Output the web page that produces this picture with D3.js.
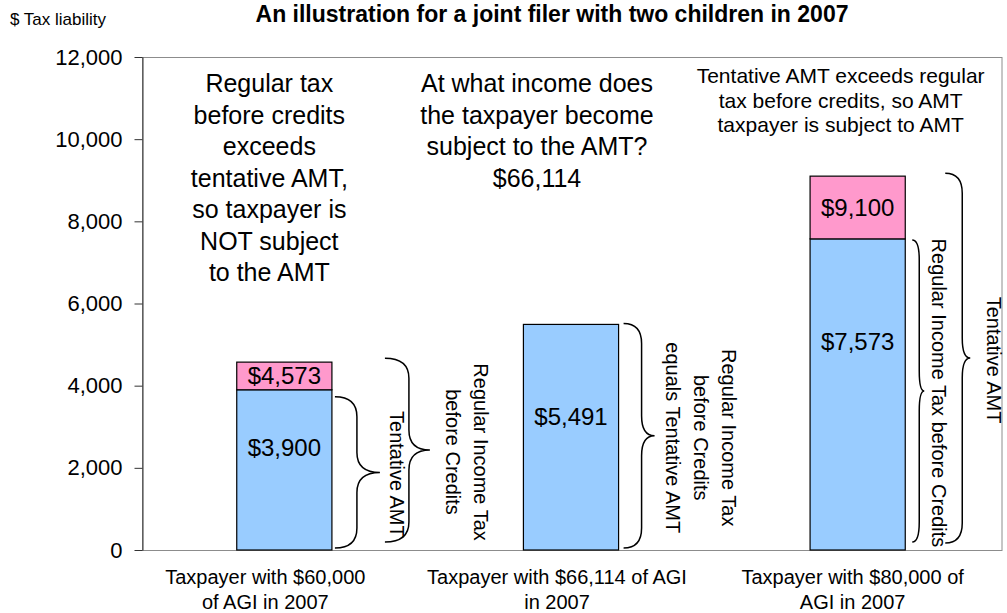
<!DOCTYPE html>
<html>
<head>
<meta charset="utf-8">
<script src="https://cdn.jsdelivr.net/npm/d3@7"></script>
<style>
  body { margin: 0; background: #fff; }
  svg text { font-family: "Liberation Sans", Arial, sans-serif; fill: #000; }
</style>
</head>
<body>
<script>
// Données
const categories = ['$60,000', '$66,114', '$80,000'];
const categoryLines = [
  ['Taxpayer with $60,000', 'of AGI in 2007'],
  ['Taxpayer with $66,114 of AGI', 'in 2007'],
  ['Taxpayer with $80,000 of', 'AGI in 2007']
];
const regularTax = [4573, 5491, 7573];
const tentativeAMT = [3900, 5491, 9100];
const yTicks = [0, 2000, 4000, 6000, 8000, 10000, 12000];
const notes = [
  ['Regular tax', 'before credits', 'exceeds', 'tentative AMT,', 'so taxpayer is', 'NOT subject', 'to the AMT'],
  ['At what income does', 'the taxpayer become', 'subject to the AMT?', '$66,114'],
  ['Tentative AMT exceeds regular', 'tax before credits, so AMT', 'taxpayer is subject to AMT']
];
const braceSeries = [
  { bar: 0, series: 'amt', lines: ['Tentative AMT'] },
  { bar: 0, series: 'reg', lines: ['Regular Income Tax', 'before Credits'] },
  { bar: 1, series: 'reg', lines: ['Regular Income Tax', 'before Credits', 'equals Tentative AMT'] },
  { bar: 2, series: 'reg', lines: ['Regular Income Tax before Credits'] },
  { bar: 2, series: 'amt', lines: ['Tentative AMT'] }
];

// mise en page des accolades (décalages depuis le bord droit de la barre)
const braceLayout = [
  { x0: 3, xm: 25, xt: 48, dTop: 7, dBot: 2, lx: 17 },
  { x0: 53, xm: 77, xt: 98, dTop: -4, dBot: 8, lx: 23 },
  { x0: 5, xm: 23, xt: 36, dTop: -1, dBot: 2, lx: 18 },
  { x0: 7, xm: 14, xt: 19, dTop: 1, dBot: 8, lx: 15 },
  { x0: 40, xm: 57, xt: 65, dTop: -3, dBot: 7, lx: 24 }
];
const blueLabelFrac = [0.64, 0.59, 0.67];
const noteDx = [-15, -34, -17];
const catDx = [-19, -14, -5];

const W = 1007, H = 613;
const svg = d3.select('body').append('svg')
  .attr('width', W)
  .attr('height', H);

const x = d3.scaleBand()
  .domain(categories)
  .range([141, 1001])
  .paddingInner(0.668)
  .paddingOuter(0.334);

const y = d3.scaleLinear()
  .domain([0, 12000])
  .range([550, 57]);

// cadre gris
svg.append('rect')
  .attr('x', 142.5).attr('y', y(12000) + 0.5)
  .attr('width', 1002 - 142.5).attr('height', y(0) - y(12000))
  .attr('fill', 'none')
  .attr('stroke', '#8c8c8c')
  .attr('stroke-width', 1);

const bars = categories.map((c, i) => ({
  cat: c,
  low: Math.min(regularTax[i], tentativeAMT[i]),
  high: Math.max(regularTax[i], tentativeAMT[i])
}));

// partie bleue
svg.append('g').selectAll('rect')
  .data(bars)
  .join('rect')
  .attr('x', d => x(d.cat))
  .attr('y', d => y(d.low))
  .attr('width', x.bandwidth())
  .attr('height', d => y(0) - y(d.low))
  .attr('fill', '#99ccff')
  .attr('stroke', '#000')
  .attr('stroke-width', 1.2);

// partie rose
svg.append('g').selectAll('rect')
  .data(bars.filter(d => d.high > d.low))
  .join('rect')
  .attr('x', d => x(d.cat))
  .attr('y', d => y(d.high))
  .attr('width', x.bandwidth())
  .attr('height', d => y(d.low) - y(d.high))
  .attr('fill', '#ff99cc')
  .attr('stroke', '#000')
  .attr('stroke-width', 1.2);

const fmt = d3.format(',');

// étiquettes des valeurs
svg.append('g').selectAll('text')
  .data(bars)
  .join('text')
  .attr('x', d => x(d.cat) + x.bandwidth() / 2)
  .attr('y', (d, i) => y(d.low * blueLabelFrac[i]))
  .attr('dy', '0.35em')
  .attr('text-anchor', 'middle')
  .style('font-size', '24px')
  .text(d => '$' + fmt(d.low));

svg.append('g').selectAll('text')
  .data(bars.filter(d => d.high > d.low))
  .join('text')
  .attr('x', d => x(d.cat) + x.bandwidth() / 2)
  .attr('y', d => (y(d.low) + y(d.high)) / 2)
  .attr('dy', '0.35em')
  .attr('text-anchor', 'middle')
  .style('font-size', '24px')
  .text(d => '$' + fmt(d.high));

// axe Y
const yAxis = svg.append('g')
  .attr('transform', 'translate(142.5,0)')
  .call(d3.axisLeft(y).tickValues(yTicks).tickSize(8).tickSizeOuter(0).tickPadding(12).tickFormat(fmt));
yAxis.select('.domain').attr('stroke', '#333');
yAxis.selectAll('.tick line').attr('stroke', '#333');
yAxis.selectAll('.tick text')
  .style('font-size', '22px')
  .style('font-family', '"Liberation Sans", Arial, sans-serif');

// étiquettes des catégories
categories.forEach((c, i) => {
  const t = svg.append('text')
    .attr('text-anchor', 'middle')
    .style('font-size', '20px');
  categoryLines[i].forEach((line, k) => {
    t.append('tspan')
      .attr('x', x(c) + x.bandwidth() / 2 + catDx[i])
      .attr('y', 584 + k * 25)
      .text(line);
  });
});

// accolades
function bracePath(x0, xm, xt, y0, y1) {
  const ym = (y0 + y1) / 2;
  const r = Math.min(20, (y1 - y0) / 6);
  return `M${x0},${y0} Q${xm},${y0} ${xm},${y0 + r} L${xm},${ym - r} Q${xm},${ym} ${xt},${ym}`
    + ` Q${xm},${ym} ${xm},${ym + r} L${xm},${y1 - r} Q${xm},${y1} ${x0},${y1}`;
}

braceSeries.forEach((b, i) => {
  const L = braceLayout[i];
  const right = x(categories[b.bar]) + x.bandwidth();
  const v = b.series === 'reg' ? regularTax[b.bar] : tentativeAMT[b.bar];
  const y0 = y(v) + L.dTop;
  const y1 = y(0) - L.dBot;
  svg.append('path')
    .attr('d', bracePath(right + L.x0, right + L.xm, right + L.xt, y0, y1))
    .attr('fill', 'none')
    .attr('stroke', '#000')
    .attr('stroke-width', 1.5);
  const ym = (y0 + y1) / 2;
  const n = b.lines.length;
  b.lines.forEach((line, k) => {
    const cx = right + L.xt + L.lx + (n - 1 - k) * 28;
    svg.append('text')
      .attr('transform', `translate(${cx},${ym + 2}) rotate(90)`)
      .attr('text-anchor', 'middle')
      .attr('dy', '0.35em')
      .style('font-size', '20px')
      .text(line);
  });
});

// notes du haut
notes.forEach((lines, i) => {
  const big = i < 2;
  const t = svg.append('text')
    .attr('text-anchor', 'middle')
    .style('font-size', big ? '25px' : '21px');
  lines.forEach((line, k) => {
    t.append('tspan')
      .attr('x', x(categories[i]) + x.bandwidth() / 2 + noteDx[i])
      .attr('y', big ? 92 + k * 31.5 : 83 + k * 24.5)
      .text(line);
  });
});

// titre
svg.append('text')
  .attr('x', 552)
  .attr('y', 22)
  .attr('text-anchor', 'middle')
  .style('font-size', '23px')
  .style('font-weight', 'bold')
  .text('An illustration for a joint filer with two children in 2007');

svg.append('text')
  .attr('x', 10)
  .attr('y', 25)
  .style('font-size', '17px')
  .text('$ Tax liability');
</script>
</body>
</html>
